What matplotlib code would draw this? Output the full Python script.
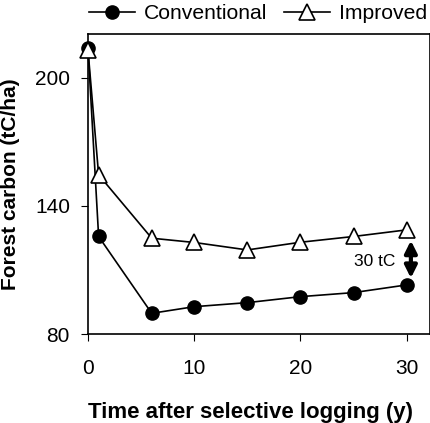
import matplotlib.pyplot as plt

plt.rcParams['font.family'] = ['Liberation Sans', 'DejaVu Sans']

years = [0, 1, 6, 10, 15, 20, 25, 30]
conventional = [214, 125.7, 89.7, 92.8, 94.7, 97.5, 99.4, 103]
improved = [213, 154.6, 124.9, 122.9, 119.4, 123, 125.7, 128.8]

fig = plt.figure(figsize=(4.31, 4.23), dpi=100)
ax = fig.add_axes([88 / 431, 1 - 334 / 423, 342 / 431, 300 / 423])

ax.plot(years, conventional, '-o', color='black', lw=1.2, ms=9.5,
        mfc='black', mec='black', label='Conventional', clip_on=False, zorder=3)
ax.plot(years, improved, '-^', color='black', lw=1.2, ms=11,
        mfc='white', mec='black', mew=1.2, label='Improved', clip_on=False, zorder=3)

# difference arrow
ax.annotate('', xy=(30.4, 106.2), xytext=(30.4, 123.8),
            arrowprops=dict(arrowstyle='<|-|>', color='black', lw=3,
                            mutation_scale=18, shrinkA=0, shrinkB=0))
ax.text(28.9, 114.2, '30 tC', ha='right', va='center', fontsize=12.5)

ax.set_xlim(0, 32.2)
ax.set_ylim(80, 220.6)
ax.set_xticks([0, 10, 20, 30])
ax.set_yticks([80, 140, 200])
ax.tick_params(direction='out', length=5, labelsize=15, pad=8)
ax.tick_params(axis='x', pad=13)
for s in ax.spines.values():
    s.set_linewidth(1.2)

ax.set_xlabel('Time after selective logging (y)', fontsize=16,
              fontweight='bold', labelpad=15)
ax.xaxis.set_label_coords(0.476, -0.225)
ax.set_ylabel('Forest carbon (tC/ha)', fontsize=15, fontweight='bold')
ax.yaxis.set_label_coords(-0.199, 0.5)

ax.legend(loc='lower right', bbox_to_anchor=(1.022, 1.0), ncol=2, frameon=False,
          fontsize=15.2, handlelength=2.2, columnspacing=0.8, handletextpad=0.4,
          borderaxespad=0.1)

fig.savefig('out.png', dpi=100)
